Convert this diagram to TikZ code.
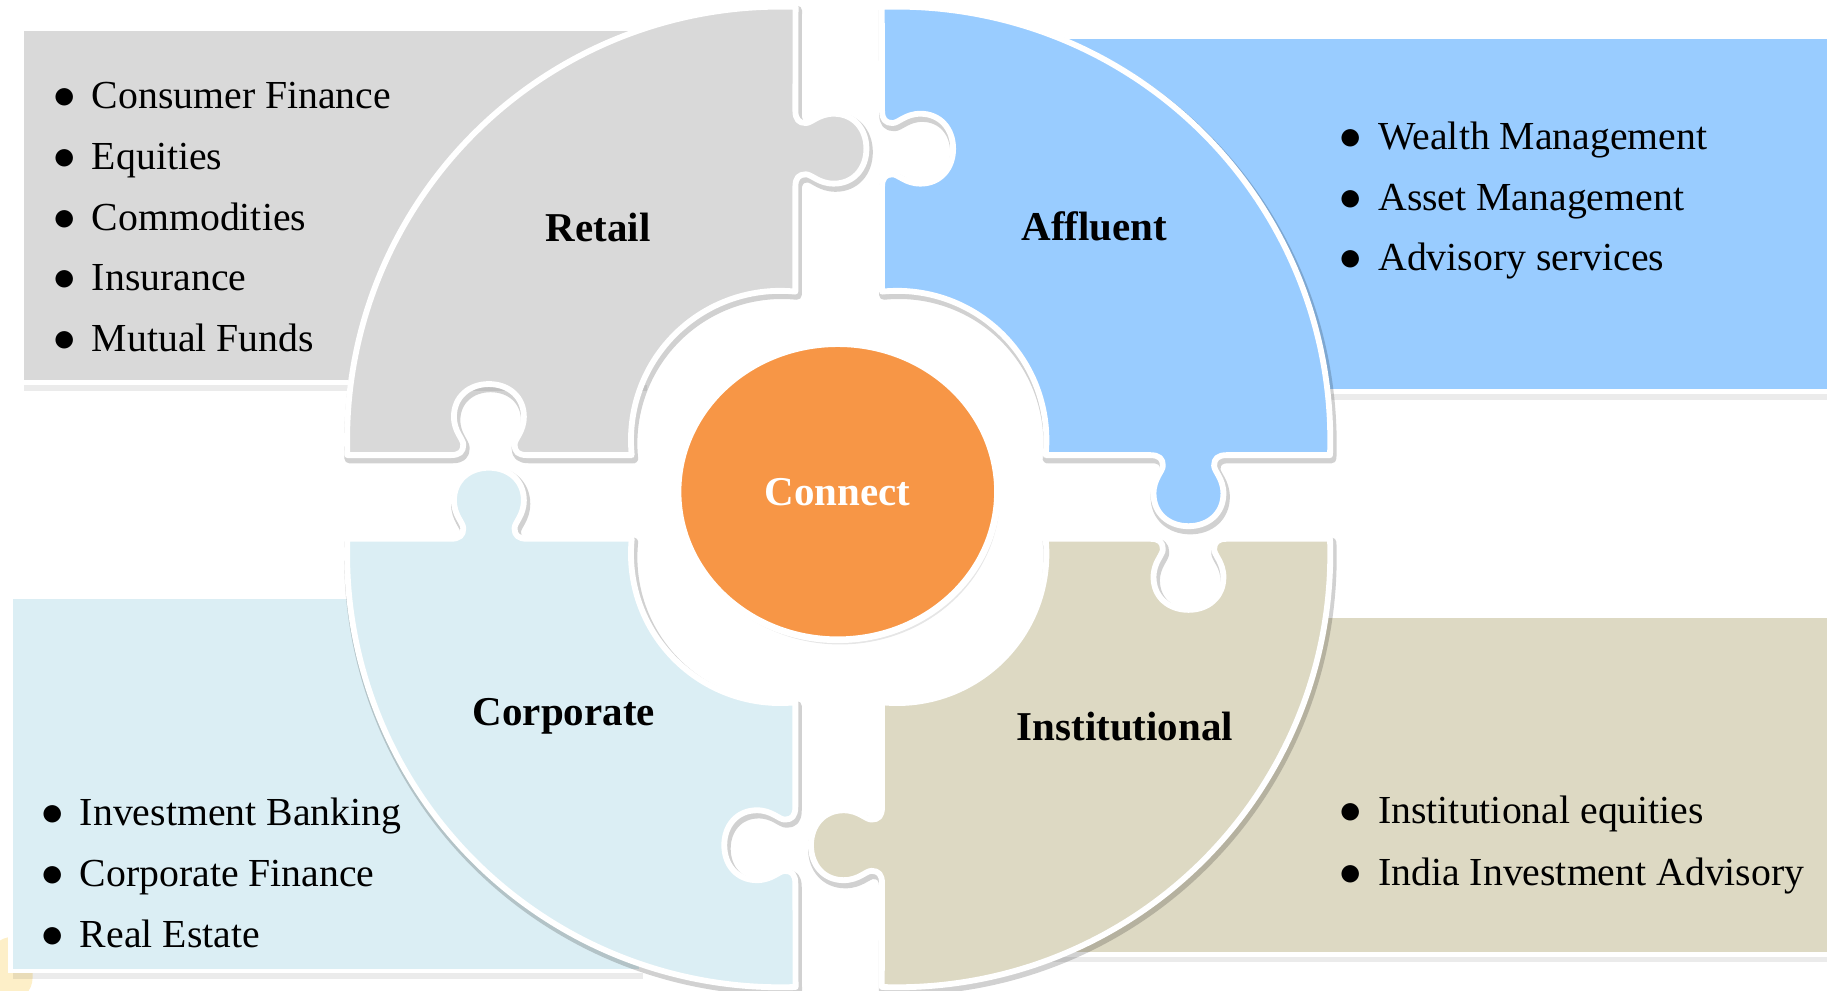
\documentclass[tikz,border=0pt]{standalone}
\usepackage{fontspec}
\setmainfont{Liberation Serif}
\usetikzlibrary{shapes.geometric,shadows}

\definecolor{retailgray}{HTML}{D9D9D9}
\definecolor{affluentblue}{HTML}{99CCFF}
\definecolor{corporateblue}{HTML}{DBEEF4}
\definecolor{institutionaltan}{HTML}{DDD9C3}
\definecolor{connectorange}{HTML}{F79646}
\definecolor{glowyellow}{HTML}{FDEFC8}

% ring geometry, in picture units (0.01cm)
\def\Ro{371.7}
\def\Ri{128}
\def\edg{13}
\def\tabpos{250}
\pgfmathsetmacro{\aO}{asin(\edg/\Ro)}
\pgfmathsetmacro{\aI}{asin(\edg/\Ri)}
\pgfmathsetmacro{\Rx}{\Ro*cos(\aO)}
\pgfmathsetmacro{\rx}{\Ri*cos(\aI)}
\pgfmathsetmacro{\Rcm}{\Ro/100}
\pgfmathsetmacro{\rcm}{\Ri/100}

\newcommand{\bul}{\makebox[0.472cm][c]{\fontsize{11}{11}\selectfont$\bullet$}}

% one quarter piece: #1 bottom edge (-1 tab, 1 socket), #2 side edge
\newcommand{\piecepath}[2]{%
  (\rx,-\edg) -- ({\tabpos-33},-\edg)
  .. controls ({\tabpos-25},-\edg) and ({\tabpos-22},{-\edg+3*(#1)}) .. ({\tabpos-22},{-\edg+9*(#1)})
  .. controls ({\tabpos-22},{-\edg+14*(#1)}) and ({\tabpos-30},{-\edg+20*(#1)}) .. ({\tabpos-30},{-\edg+33*(#1)})
  .. controls ({\tabpos-30},{-\edg+50*(#1)}) and ({\tabpos-17},{-\edg+61*(#1)}) .. (\tabpos,{-\edg+61*(#1)})
  .. controls ({\tabpos+17},{-\edg+61*(#1)}) and ({\tabpos+30},{-\edg+50*(#1)}) .. ({\tabpos+30},{-\edg+33*(#1)})
  .. controls ({\tabpos+30},{-\edg+20*(#1)}) and ({\tabpos+22},{-\edg+14*(#1)}) .. ({\tabpos+22},{-\edg+9*(#1)})
  .. controls ({\tabpos+22},{-\edg+3*(#1)}) and ({\tabpos+25},-\edg) .. ({\tabpos+33},-\edg)
  -- (\Rx,-\edg) arc[start angle=-\aO, end angle=90+\aO, radius=\Rcm cm]
  -- (-\edg,{\tabpos+33})
  .. controls (-\edg,{\tabpos+25}) and ({-\edg+3*(#2)},{\tabpos+22}) .. ({-\edg+9*(#2)},{\tabpos+22})
  .. controls ({-\edg+14*(#2)},{\tabpos+22}) and ({-\edg+20*(#2)},{\tabpos+30}) .. ({-\edg+33*(#2)},{\tabpos+30})
  .. controls ({-\edg+50*(#2)},{\tabpos+30}) and ({-\edg+61*(#2)},{\tabpos+17}) .. ({-\edg+61*(#2)},\tabpos)
  .. controls ({-\edg+61*(#2)},{\tabpos-17}) and ({-\edg+50*(#2)},{\tabpos-30}) .. ({-\edg+33*(#2)},{\tabpos-30})
  .. controls ({-\edg+20*(#2)},{\tabpos-30}) and ({-\edg+14*(#2)},{\tabpos-22}) .. ({-\edg+9*(#2)},{\tabpos-22})
  .. controls ({-\edg+3*(#2)},{\tabpos-22}) and (-\edg,{\tabpos-25}) .. (-\edg,{\tabpos-33})
  -- (-\edg,\rx) arc[start angle=90+\aI, end angle=-\aI, radius=\rcm cm] -- cycle}

% colour, centre x, centre y, xscale, yscale, bottom edge, side edge
\newcommand{\piece}[7]{%
  \begin{scope}[shift={({#2+1.5},{#3-3})}, xscale=#4, yscale=#5]
    \draw[pieceshadow] \piecepath{#6}{#7};
  \end{scope}
  \begin{scope}[shift={(#2,#3)}, xscale=#4, yscale=#5]
    \filldraw[piece, fill=#1] \piecepath{#6}{#7};
  \end{scope}}

\begin{document}
\begin{tikzpicture}[x=0.01cm,y=0.01cm,
    card/.style={draw=white, line width=0.04cm},
    cardshadow/.style={fill=black, opacity=0.08},
    piece/.style={draw=white, line width=0.05cm, line join=round},
    pieceshadow/.style={draw=black, opacity=0.18, line width=0.08cm, line join=round},
    hub/.style={ellipse, fill=connectorange, draw=white, line width=0.057cm,
      minimum width=2.74cm, minimum height=2.54cm, inner sep=0pt, text=white,
      font=\fontsize{10}{12}\selectfont\bfseries,
      drop shadow={opacity=0.2, shadow xshift=0.2mm, shadow yshift=-0.4mm}},
    title/.style={anchor=base, inner sep=0pt, font=\fontsize{10}{12}\selectfont\bfseries},
    item/.style={anchor=base west, inner sep=0pt, font=\fontsize{9.7}{12}\selectfont}]
  \useasboundingbox (0,0) rectangle (1568,850);
  \fill[glowyellow, rounded corners=6] (-10,-10) rectangle (28,46);
  % cards behind the pieces
  \fill[cardshadow, shift={(2,-7)}] (19,521.8) rectangle (553,825.7);
  \filldraw[card, fill=retailgray] (19,521.8) rectangle (553,825.7);
  \fill[cardshadow, shift={(2,-7)}] (897,513.8) rectangle (1580,818.2);
  \filldraw[card, fill=affluentblue] (897,513.8) rectangle (1580,818.2);
  \fill[cardshadow, shift={(2,-7)}] (9,16.8) rectangle (550,337.8);
  \filldraw[card, fill=corporateblue] (9,16.8) rectangle (550,337.8);
  \fill[cardshadow, shift={(2,-7)}] (898,31.1) rectangle (1580,321.8);
  \filldraw[card, fill=institutionaltan] (898,31.1) rectangle (1580,321.8);
  % puzzle pieces
  \piece{retailgray}{669.6}{472.4}{-1}{1}{1}{-1}
  \piece{affluentblue}{770}{472.4}{1}{1}{-1}{1}
  \piece{corporateblue}{669.6}{374.6}{-1}{-1}{-1}{1}
  \piece{institutionaltan}{770}{374.6}{1}{-1}{1}{-1}
  \node[hub] (connect) at (719,428) {Connect};
  % titles
  \node[title] (retail) at (513.3,642.5) {Retail};
  \node[title] (affluent) at (939.3,644) {Affluent};
  \node[title] (corporate) at (484,227.7) {Corporate};
  \node[title] (institutional) at (965.5,214.8) {Institutional};
  % lists
  \foreach \txt [count=\i] in {Consumer Finance,Equities,Commodities,Insurance,Mutual Funds}
    \node[item] (retail-\i) at (31,{757-(\i-1)*52.2}) {\bul\txt};
  \foreach \txt [count=\i] in {Wealth Management,Asset Management,Advisory services}
    \node[item] (affluent-\i) at (1135,{721.8-(\i-1)*52.1}) {\bul\txt};
  \foreach \txt [count=\i] in {Investment Banking,Corporate Finance,Real Estate}
    \node[item] (corporate-\i) at (20.7,{141.9-(\i-1)*52.5}) {\bul\txt};
  \foreach \txt [count=\i] in {Institutional equities,India Investment Advisory}
    \node[item] (institutional-\i) at (1135,{143.3-(\i-1)*52.9}) {\bul\txt};
\end{tikzpicture}
\end{document}
